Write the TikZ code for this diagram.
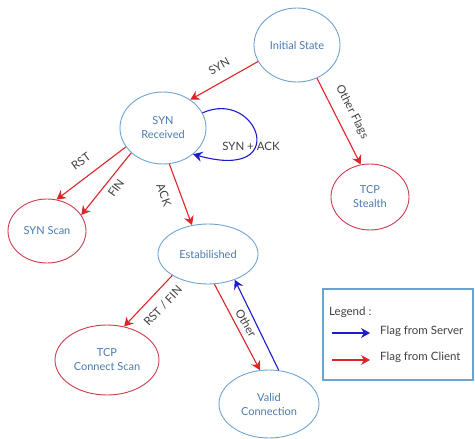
\documentclass[tikz,border=0pt]{standalone}
\usepackage{fontspec}
\setmainfont{Lato}
\usetikzlibrary{shapes.geometric,arrows.meta}
\definecolor{nodeblue}{HTML}{6FA3CF}
\definecolor{nodetext}{HTML}{4A7AAE}
\definecolor{nodered}{HTML}{CF3A4C}
\definecolor{arrred}{HTML}{DD2427}
\definecolor{arrblue}{HTML}{1C1CCC}
\definecolor{labgray}{HTML}{404040}
\tikzset{
  state/.style={ellipse, draw=nodeblue, line width=0.9pt, inner sep=0pt, align=center,
     text=nodetext, font=\fontsize{11}{14}\selectfont},
  endstate/.style={state, draw=nodered},
  flow/.style={draw=arrred, line width=1.1pt, -{Stealth[length=9pt,width=10pt,inset=3pt]}},
  sflow/.style={draw=arrblue, line width=1.1pt, -{Stealth[length=9pt,width=10pt,inset=3pt]}},
  lab/.style={text=labgray, font=\fontsize{11.5}{13}\selectfont, inner sep=1pt},
}
\begin{document}
\begin{tikzpicture}[x=1pt,y=-1pt]
\useasboundingbox (0,0) rectangle (475,439);
\node[state, minimum width=86pt, minimum height=74pt] (init) at (297,45) {Initial State};
\node[state, minimum width=86pt, minimum height=72pt] (synrec) at (163,128) {SYN\\Received};
\node[endstate, minimum width=78pt, minimum height=66pt] (stealth) at (370,197) {TCP\\Stealth};
\node[endstate, minimum width=78pt, minimum height=64pt] (synscan) at (47,231) {SYN Scan};
\node[state, minimum width=100pt, minimum height=60pt] (estab) at (208,254) {Estabilished};
\node[endstate, minimum width=104pt, minimum height=70pt] (tcpconn) at (107,360) {TCP\\Connect Scan};
\node[state, minimum width=100pt, minimum height=68pt] (valid) at (269,404) {Valid\\Connection};

\draw[flow] (init.203) -- (synrec.46);
\node[lab, rotate=30] (lsyn) at (219,66) {SYN};
\draw[flow] (init.301) -- (stealth.106);
\node[lab, rotate=-63] (lother) at (352,112) {Other Flags};
\draw[sflow] (synrec.21) .. controls (258,88) and (292,182) .. (synrec.319);
\node[lab] (lsynack) at (251,146) {SYN + ACK};
\draw[flow] (synrec.207) -- (synscan.73);
\node[lab, rotate=36] (lrst) at (81,161) {RST};
\draw[flow] (synrec.218) -- (synscan.25);
\node[lab, rotate=54] (lfin) at (116,188) {FIN};
\draw[flow] (synrec.280) -- (estab.119);
\node[lab, rotate=-70] (lack) at (164,195) {ACK};
\draw[flow] (estab.211) -- (tcpconn.63);
\node[lab, rotate=47] (lrstfin) at (163,306) {RST / FIN};
\draw[flow] (estab.282) -- (valid.105);
\node[lab, rotate=-60] (lot) at (246,323) {Other};
\draw[sflow] (valid.74) -- (estab.316);

\node[draw=nodeblue, line width=1.4pt, minimum width=150pt, minimum height=91pt, inner sep=0pt] (legend) at (398,334.5) {};
\node[lab, anchor=west] (legtitle) at (328,312) {Legend :};
\coordinate (b1) at (332,333);
\coordinate (b2) at (370,333);
\coordinate (r1) at (332,360);
\coordinate (r2) at (370,360);
\draw[sflow] (b1) -- (b2);
\draw[flow] (r1) -- (r2);
\node[lab, anchor=west] (lserver) at (379,331) {Flag from Server};
\node[lab, anchor=west] (lclient) at (379,357) {Flag from Client};
\end{tikzpicture}
\end{document}
